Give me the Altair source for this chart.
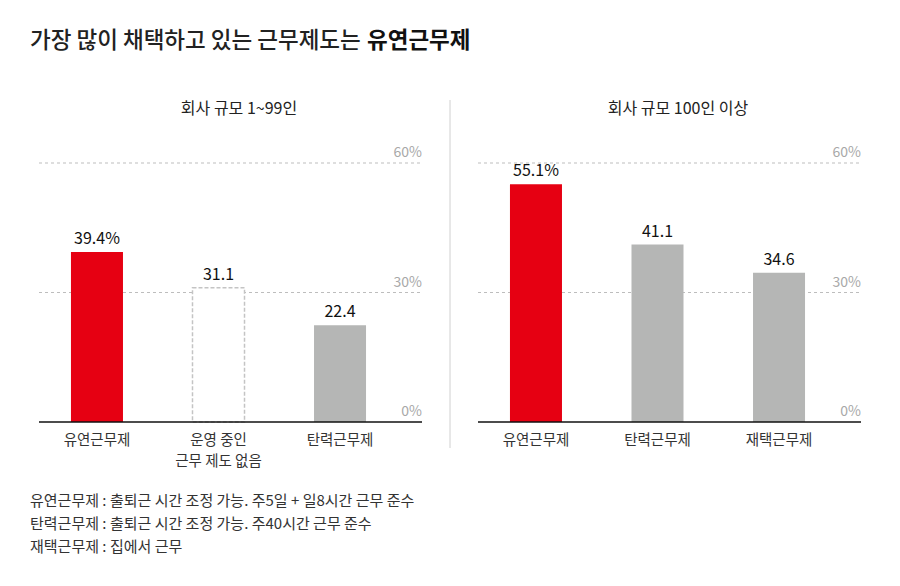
import altair as alt
import pandas as pd

# ---- data ----
title_normal = "가장 많이 채택하고 있는 근무제도는"
title_bold = "유연근무제"

left_title = "회사 규모 1~99인"
left_cats = ["유연근무제", "운영 중인|근무 제도 없음", "탄력근무제"]
left_vals = [39.4, 31.1, 22.4]
left_labels = ["39.4%", "31.1", "22.4"]
left_styles = ["red", "dashed", "grey"]

right_title = "회사 규모 100인 이상"
right_cats = ["유연근무제", "탄력근무제", "재택근무제"]
right_vals = [55.1, 41.1, 34.6]
right_labels = ["55.1%", "41.1", "34.6"]
right_styles = ["red", "grey", "grey"]

grid_vals = [30, 60]
tick_vals = [0, 30, 60]
tick_labels = ["0%", "30%", "60%"]

notes = [
    "유연근무제 : 출퇴근 시간 조정 가능. 주5일 + 일8시간 근무 준수",
    "탄력근무제 : 출퇴근 시간 조정 가능. 주40시간 근무 준수",
    "재택근무제 : 집에서 근무",
]

# ---- style ----
W, H = 383, 259
FONT = "Noto Sans CJK KR"
BG = "#ffffff"
RED = "#e60012"
GREY = "#b5b6b5"


def one(**kw):
    return alt.Chart(pd.DataFrame([kw]))


def panel(title, cats, vals, labels, styles, is_left):
    df = pd.DataFrame({"cat": cats, "v": vals, "label": labels, "style": styles})
    yscale = alt.Scale(domain=[0, 60], nice=False, zero=True)
    x = alt.X(
        "cat:N", sort=cats, title=None,
        scale=alt.Scale(range=[0, 359], paddingInner=0.572, paddingOuter=0.263),
        axis=alt.Axis(domain=False, ticks=False, labelPadding=11, labelFontSize=14.5,
                      labelColor="#333333", labelFont=FONT, labelLineHeight=21,
                      labelAngle=0, labelExpr="split(datum.label, '|')"),
    )
    y = alt.Y("v:Q", scale=yscale, axis=None)

    grid = alt.Chart(pd.DataFrame({"v": grid_vals})).mark_rule(
        color="#bdbdbd", strokeDash=[3, 3], strokeWidth=1
    ).encode(y=y, x=alt.value(0), x2=alt.value(W))
    ticks = alt.Chart(pd.DataFrame({"v": tick_vals, "t": tick_labels})).mark_text(
        align="right", baseline="alphabetic", dy=-6, fontSize=14, color="#a8a8a8", font=FONT
    ).encode(y=y, x=alt.value(W), text="t:N")
    base = alt.Chart(df)
    solid = base.transform_filter("datum.style != 'dashed'").mark_bar().encode(
        x=x, y=y,
        color=alt.Color("style:N", scale=alt.Scale(domain=["red", "grey"], range=[RED, GREY]), legend=None),
    )
    dashed = base.transform_filter("datum.style == 'dashed'").mark_bar(
        fill=BG, stroke="#c4c4c4", strokeDash=[4, 2], strokeWidth=1.5
    ).encode(x=x, y=y)
    text = base.mark_text(
        dy=-8, baseline="alphabetic", fontSize=16, color="#111111", font=FONT
    ).encode(x=x, y=y, text="label:N")
    axisline = alt.Chart(pd.DataFrame({"v": [0]})).mark_rule(
        color="#111111", strokeWidth=1.5
    ).encode(y=y, x=alt.value(0), x2=alt.value(W))
    ptitle = one(t=title).mark_text(
        fontSize=16, font=FONT, color="#222222", baseline="middle", align="center"
    ).encode(text="t:N", x=alt.value(200), y=alt.value(-54))

    layers = [grid, ticks, solid, dashed, text, axisline, ptitle]
    if is_left:
        t1 = one(t=title_normal).mark_text(
            fontSize=22.5, font=FONT, fontWeight=500, color="#222222", align="left", baseline="middle"
        ).encode(text="t:N", x=alt.value(-9), y=alt.value(-122))
        t2 = one(t=title_bold).mark_text(
            fontSize=22.5, font=FONT, fontWeight="bold", color="#111111", align="left", baseline="middle"
        ).encode(text="t:N", x=alt.value(328), y=alt.value(-122))
        foot = one(k=0).mark_text(
            text=notes, lineHeight=23, fontSize=15, font=FONT, color="#333333",
            align="left", baseline="middle"
        ).encode(x=alt.value(-9), y=alt.value(338))
        layers += [t1, t2, foot]
    else:
        divider = one(k=0).mark_rule(color="#d0d0d0", strokeWidth=1).encode(
            x=alt.value(-28), y=alt.value(-63), y2=alt.value(285)
        )
        layers += [divider]
    return alt.layer(*layers).properties(width=W, height=H)


left = panel(left_title, left_cats, left_vals, left_labels, left_styles, True)
right = panel(right_title, right_cats, right_vals, right_labels, right_styles, False)

chart = alt.hconcat(left, right, spacing=56, bounds="flush").resolve_scale(
    x="independent", y="independent", color="independent"
).configure(
    background=BG,
    padding={"left": 22, "top": 22, "right": 5, "bottom": 5},
).configure_view(stroke=None)

chart.save("out.html", embed_options={"renderer": "svg", "actions": False})
